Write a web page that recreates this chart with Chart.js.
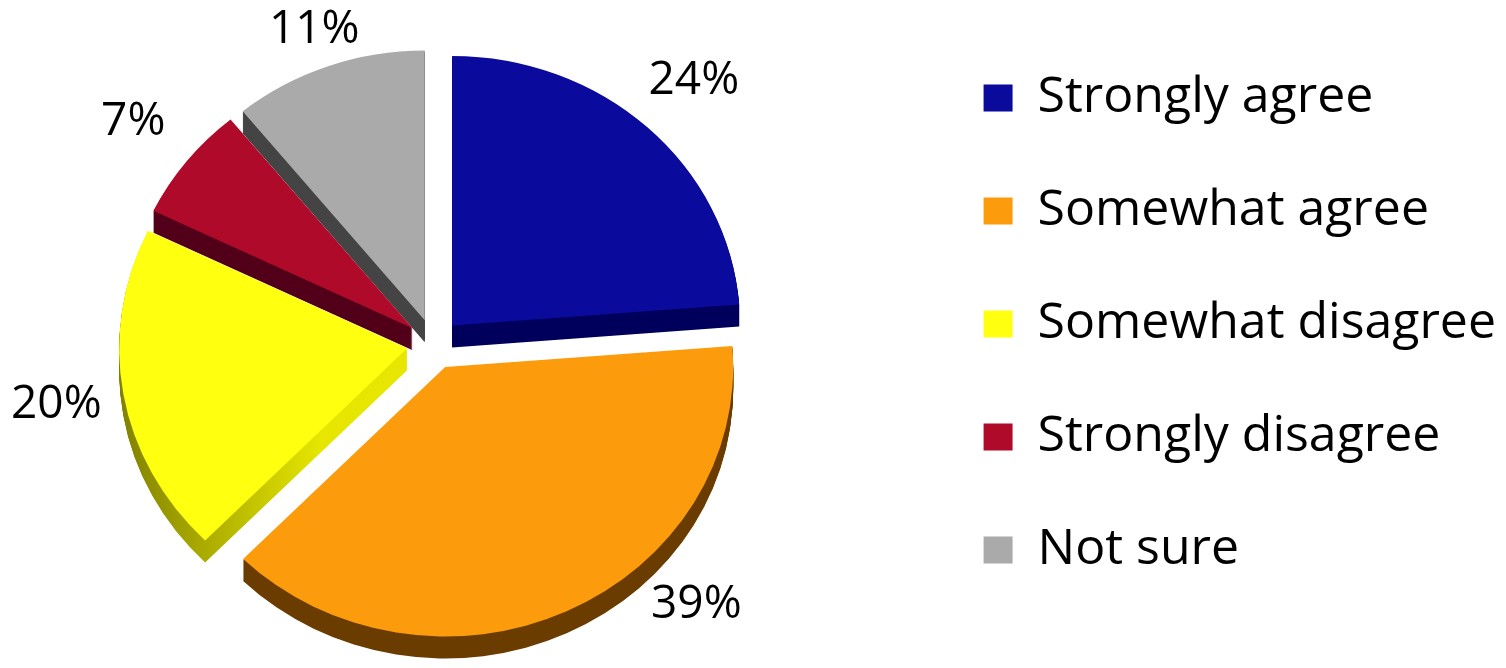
<!DOCTYPE html>
<html>
<head>
<meta charset="utf-8">
<script src="https://cdn.jsdelivr.net/npm/chart.js@4.4.1/dist/chart.umd.min.js"></script>
<style>
  html, body { margin: 0; padding: 0; background: #fff; overflow: hidden; }
  body { width: 1506px; height: 668px; position: relative; }
  /* canvas is a bit wider/taller than the page so the pie sits left of centre */
  #wrap { position: absolute; left: -53px; top: 0; width: 1559px; height: 678px; }
</style>
</head>
<body>
<div id="wrap"><canvas id="pieChart"></canvas></div>
<script>
const labels = ['Strongly agree', 'Somewhat agree', 'Somewhat disagree', 'Strongly disagree', 'Not sure'];
const values = [24, 39, 20, 7, 11];
const colors = ['#0a0a9c', '#fc9c0c', '#ffff10', '#b00a2a', '#aaaaaa'];
// side (thickness) colours, left -> right shading
const sideColors = [
	['#00005c', '#00005c'],
	['#6a3c00', '#6a3c00'],
	['#808000', '#e6e600'],
	['#52001a', '#52001a'],
	['#444444', '#444444'],
];

const TILT = 0.936; // vertical squash of the pie
const DEPTH = 22;   // thickness of the pie edge
const EXPLODE = 27; // how far each slice is pulled out

const withOptions = (arc, extra, fn) => {
	const opts = arc.options;
	arc.options = Object.assign({}, opts, extra);
	fn();
	arc.options = opts;
};

// fake 3d: squash the pie, pull slices out and draw a dark extrusion under each
const tilt3d = {
	id: 'tilt3d',
	beforeDatasetsDraw(chart) {
		const ctx = chart.ctx;
		const arcs = chart.getDatasetMeta(0).data;
		const { x: cx, y: cy, outerRadius: r } = arcs[0];
		const shift = (arc) => {
			const mid = (arc.startAngle + arc.endAngle) / 2;
			ctx.translate(Math.cos(mid) * EXPLODE, Math.sin(mid) * EXPLODE);
		};

		ctx.save();
		ctx.translate(0, cy);
		ctx.scale(1, TILT);
		ctx.translate(0, -cy);

		arcs.forEach((arc, i) => {
			const g = ctx.createLinearGradient(cx - r, 0, cx - r * 0.3, 0);
			g.addColorStop(0, sideColors[i][0]);
			g.addColorStop(1, sideColors[i][1]);
			withOptions(arc, { backgroundColor: g, borderWidth: 0 }, () => {
				for (let k = DEPTH; k > 0; k--) {
					ctx.save();
					shift(arc);
					ctx.translate(0, k / TILT);
					arc.draw(ctx);
					ctx.restore();
				}
			});
		});
		arcs.forEach((arc) => {
			ctx.save();
			shift(arc);
			arc.draw(ctx);
			ctx.restore();
		});
		ctx.restore();

		// percentage labels on a ring outside the pie
		ctx.save();
		ctx.font = '46px "Open Sans"';
		ctx.fillStyle = '#000';
		ctx.textAlign = 'center';
		ctx.textBaseline = 'middle';
		const lo = 30, hi = 605;
		arcs.forEach((arc, i) => {
			const mid = (arc.startAngle + arc.endAngle) / 2;
			const ring = arc.outerRadius + 95;
			let x = arc.x + Math.cos(mid) * ring;
			let y = arc.y + Math.sin(mid) * ring * TILT;
			if (y < lo) {
				// pull in towards the centre
				const t = (lo - arc.y) / (Math.sin(mid) * TILT);
				x = arc.x + Math.cos(mid) * t;
				y = lo;
			} else if (y > hi) {
				// slide along the ring
				y = hi;
				const dy = (y - arc.y) / TILT;
				x = arc.x + Math.sign(Math.cos(mid)) * Math.sqrt(Math.max(ring * ring - dy * dy, 0));
			}
			ctx.fillText(values[i] + '%', x, y);
		});
		ctx.restore();
		return false; // slices already drawn above
	},
};

const pie = document.getElementById('pieChart');

new Chart(pie, {
	type: 'pie',
	data: {
		labels,
		datasets: [{
			data: values,
			backgroundColor: colors,
			borderWidth: 0,
			hoverOffset: 0,
		}],
	},
	options: {
		responsive: true,
		maintainAspectRatio: false,
		animation: false,
		radius: 288,
		layout: { padding: { left: 0, right: 0, top: 10, bottom: 0 } },
		plugins: {
			tooltip: { enabled: false },
			legend: {
				display: true,
				position: 'right',
				align: 'start',
				labels: {
					color: '#000',
					font: { family: 'Open Sans', size: 50 },
					boxWidth: 29,
					boxHeight: 27,
					padding: 63,
				},
			},
		},
	},
	plugins: [tilt3d],
});
</script>
</body>
</html>
